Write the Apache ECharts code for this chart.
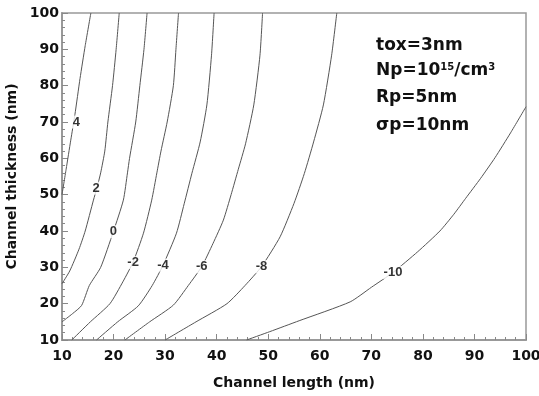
<!DOCTYPE html>
<html>
<head>
<meta charset="utf-8">
<script src="https://cdn.jsdelivr.net/npm/echarts@6/dist/echarts.min.js"></script>
<style>
  html, body { margin: 0; padding: 0; background: #fff; }
  #chart { width: 539px; height: 396px; }
</style>
</head>
<body>
<div id="chart"></div>
<script>
// contour levels, each line is a list of [length, thickness] points
const levels = ['4', '2', '0', '-2', '-4', '-6', '-8', '-10'];

const line4 = [[10, 50], [10.8, 57], [11.7, 65], [12.5, 72], [13.5, 82], [14.5, 91], [15.6, 100]];
const line2 = [[10, 25.5], [11.5, 29], [13.3, 35], [14.5, 40], [16.1, 48.5], [16.8, 52], [17.5, 56],
  [18.3, 62], [18.9, 70], [19.8, 80], [20.5, 90], [21.1, 100]];
const line0 = [[10, 15], [12, 17.2], [13.8, 19.5], [15.3, 25], [17.5, 30], [19.95, 39.8], [21.9, 48.5],
  [22.7, 56], [23.1, 60], [24.3, 70], [25.1, 80], [25.9, 90], [26.5, 100]];
const lineM2 = [[11.9, 10], [15.5, 15], [19.3, 20], [21.8, 26], [23.8, 31.5], [25.8, 39.4], [27.4, 48.5],
  [28.4, 56], [29.2, 62], [30.4, 70], [31.6, 80], [32.1, 90], [32.6, 100]];
const lineM4 = [[16.7, 10], [20.8, 15], [24.8, 19.4], [27.5, 25], [29.6, 30.6], [32.2, 39.4], [33.7, 47.5],
  [35.2, 55.9], [36.8, 64.5], [38.1, 74.7], [39, 88.4], [39.5, 100]];
const lineM6 = [[22.2, 10], [27, 15], [31.6, 19.6], [34.5, 25], [37.1, 30.2], [39.3, 36.6], [41.3, 43],
  [42.8, 50], [44.2, 57], [45.6, 64], [47.2, 74.7], [48.4, 88.4], [48.9, 100]];
const lineM8 = [[30, 10], [36, 15], [42, 20], [45.5, 25], [48.7, 30.2], [52.3, 38.4], [55, 47.6],
  [57, 55.8], [58.8, 64.5], [60.7, 74.7], [62.3, 88.4], [63.3, 100]];
const lineM10 = [[45.8, 10], [50.3, 12.3], [56, 15.3], [65.9, 20.5], [70, 24.5], [74.2, 28.6], [79, 34.3],
  [83.3, 40], [86, 44.6], [88.3, 49], [91.2, 54.5], [94, 60.2], [97, 67], [100, 74.2]];

const contourLines = [line4, line2, line0, lineM2, lineM4, lineM6, lineM8, lineM10];

// where each level's label sits on its line
const labelPos = [[12.8, 70], [16.6, 51.8], [19.95, 39.8], [23.8, 31.3], [29.6, 30.6], [37.1, 30.2], [48.7, 30.2], [74.2, 28.6]];

const noteLines = ['tox=3nm', 'Np=10{sup|15}/cm{sup|3}', 'Rp=5nm', 'σp=10nm'];

const boldFont = '"DejaVu Sans", sans-serif';

const chart = echarts.init(document.getElementById('chart'));

const series = contourLines.map((pts, i) => ({
  name: levels[i],
  type: 'line',
  data: pts,
  showSymbol: false,
  symbol: 'none',
  silent: true,
  smooth: 0.2,
  lineStyle: { color: '#555', width: 1 },
  z: 2
}));

series.push({
  type: 'scatter',
  symbolSize: 0,
  silent: true,
  z: 5,
  data: labelPos.map((p, i) => [p[0], p[1], levels[i]]),
  label: {
    show: true,
    position: 'inside',
    formatter: p => p.data[2],
    color: '#000',
    fontFamily: 'Arial, Liberation Sans',
    fontWeight: 'bold',
    fontSize: 13,
    backgroundColor: '#fff',
    padding: [0, 1]
  }
});

const axisCommon = {
  type: 'value',
  min: 10,
  max: 100,
  interval: 10,
  nameLocation: 'middle',
  nameTextStyle: { color: '#111', fontFamily: boldFont, fontWeight: 'bold', fontSize: 14 },
  axisLine: { show: true, lineStyle: { color: '#999', width: 2 } },
  axisTick: { show: true, inside: true, length: 6, lineStyle: { color: '#888' } },
  minorTick: { show: true, splitNumber: 5, length: 3, lineStyle: { color: '#888' } },
  splitLine: { show: false },
  axisLabel: { color: '#111', fontFamily: boldFont, fontWeight: 'bold', fontSize: 14 }
};

chart.setOption({
  animation: false,
  grid: {
    left: 62, right: 13, top: 13, bottom: 56,
    outerBoundsMode: 'none', containLabel: false,
    show: true, borderColor: '#999', borderWidth: 1.5
  },
  xAxis: Object.assign({}, axisCommon, {
    name: 'Channel length (nm)',
    nameGap: 36,
    axisLabel: Object.assign({}, axisCommon.axisLabel, { margin: 9 })
  }),
  yAxis: Object.assign({}, axisCommon, {
    name: 'Channel thickness (nm)',
    nameGap: 35,
    axisLabel: Object.assign({}, axisCommon.axisLabel, { margin: 3 })
  }),
  graphic: noteLines.map((t, i) => ({
    type: 'text',
    left: 376,
    top: [37, 62, 89, 117][i],
    style: {
      text: t,
      fill: '#111',
      font: 'bold 17px "DejaVu Sans", sans-serif',
      rich: {
        sup: { fontSize: 10, fontWeight: 'bold', fontFamily: boldFont, verticalAlign: 'top', padding: [0, 0, 8, 0] }
      }
    }
  })),
  series: series
});
</script>
</body>
</html>
